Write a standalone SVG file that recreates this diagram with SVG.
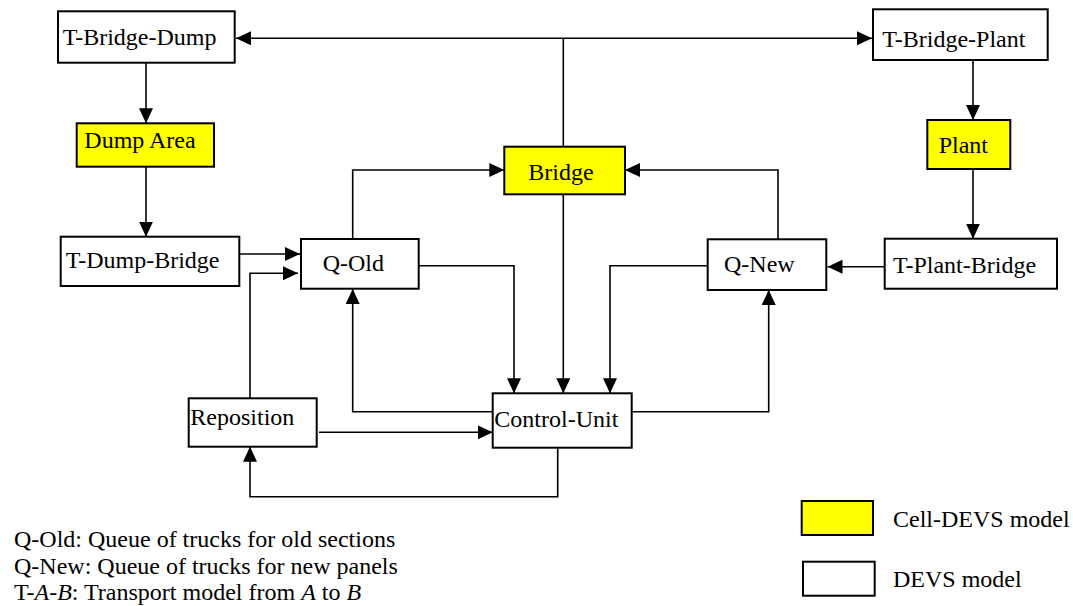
<svg xmlns="http://www.w3.org/2000/svg" width="1073" height="606" viewBox="0 0 1073 606" font-family="'Liberation Serif', 'Times New Roman', Times, serif">
<style>
.box{fill:#ffffff;stroke:#000;stroke-width:2}
.cell{fill:#ffff00;stroke:#000;stroke-width:2}
.t{font-family:'Liberation Serif', 'Times New Roman', Times, serif;font-size:24px;fill:#000}
.c{fill:none;stroke:#000;stroke-width:1.6}
</style>
<defs>
<marker id="ah" markerUnits="userSpaceOnUse" markerWidth="16" markerHeight="15" refX="15" refY="7" orient="auto-start-reverse">
<path d="M0,0 L15,7 L0,14 z" fill="#000"/>
</marker>
</defs>
<g id="connectors">
<path class="c" d="M236,38.3 H872" stroke-width="1.3" marker-start="url(#ah)" marker-end="url(#ah)"/>
<path class="c" d="M563.3,38.3 V146.7" stroke-width="1.3"/>
<path class="c" d="M146,62.7 V123.3" marker-end="url(#ah)"/>
<path class="c" d="M146,166.7 V236.7" marker-end="url(#ah)"/>
<path class="c" d="M973,60 V120" marker-end="url(#ah)"/>
<path class="c" d="M973,169 V238.7" marker-end="url(#ah)"/>
<path class="c" d="M239.3,254 H300" marker-end="url(#ah)"/>
<path class="c" d="M884.7,266.7 H827.5" marker-end="url(#ah)"/>
<path class="c" d="M352.7,239 V170 H504.3" marker-end="url(#ah)"/>
<path class="c" d="M778,239.3 V170 H625" marker-end="url(#ah)"/>
<path class="c" d="M563.3,194.3 V393.3" marker-end="url(#ah)"/>
<path class="c" d="M418.7,265.7 H514 V393.3" marker-end="url(#ah)"/>
<path class="c" d="M707.7,265.7 H610 V393.3" marker-end="url(#ah)"/>
<path class="c" d="M250,398.3 V273.3 H298" marker-end="url(#ah)"/>
<path class="c" d="M492.7,411.7 H352.7 V289" marker-end="url(#ah)"/>
<path class="c" d="M631.7,411.7 H768.7 V290" marker-end="url(#ah)"/>
<path class="c" d="M319,432.3 H492.7" marker-end="url(#ah)"/>
<path class="c" d="M557.7,447.7 V496.7 H250 V446.7" marker-end="url(#ah)"/>
</g>
<g id="t-bridge-dump"><rect class="box" x="58" y="11.3" width="176.7" height="51.4"/><text class="t" x="62.7" y="45">T-Bridge-Dump</text></g>
<g id="dump-area"><rect class="cell" x="76.7" y="123.3" width="137.3" height="43.4"/><text class="t" x="84.3" y="147.7">Dump Area</text></g>
<g id="t-dump-bridge"><rect class="box" x="60.7" y="236.7" width="178.6" height="49.3"/><text class="t" x="65.7" y="268.3">T-Dump-Bridge</text></g>
<g id="bridge"><rect class="cell" x="504.3" y="146.7" width="120.7" height="47.6"/><text class="t" x="528.3" y="180">Bridge</text></g>
<g id="t-bridge-plant"><rect class="box" x="873" y="9.3" width="174.7" height="50.7"/><text class="t" x="882.3" y="46.7">T-Bridge-Plant</text></g>
<g id="plant"><rect class="cell" x="927.3" y="120" width="83" height="49"/><text class="t" x="938.7" y="153.3">Plant</text></g>
<g id="t-plant-bridge"><rect class="box" x="884.7" y="238.7" width="172.3" height="50"/><text class="t" x="893" y="272.7">T-Plant-Bridge</text></g>
<g id="q-old"><rect class="box" x="301" y="239" width="117.7" height="49.7"/><text class="t" x="322.7" y="270.5">Q-Old</text></g>
<g id="q-new"><rect class="box" x="707.7" y="239.3" width="118.6" height="50.7"/><text class="t" x="724" y="271.7">Q-New</text></g>
<g id="control-unit"><rect class="box" x="492.7" y="393.3" width="139" height="54.4"/><text class="t" x="494.3" y="426.7">Control-Unit</text></g>
<g id="reposition"><rect class="box" x="188.7" y="398.3" width="128" height="48.4"/><text class="t" x="190.3" y="425">Reposition</text></g>
<g id="notes">
<text class="t" x="14" y="546.7">Q-Old: Queue of trucks for old sections</text>
<text class="t" x="14" y="574">Q-New: Queue of trucks for new panels</text>
<text class="t" x="14" y="600">T-<tspan font-style="italic">A</tspan>-<tspan font-style="italic">B</tspan>: Transport model from <tspan font-style="italic">A</tspan> to <tspan font-style="italic">B</tspan></text>
</g>
<g id="legend">
<rect class="cell" x="801.7" y="501" width="71.3" height="34"/>
<text class="t" x="893" y="526.7">Cell-DEVS model</text>
<rect class="box" x="803" y="561.7" width="71.7" height="34"/>
<text class="t" x="893" y="586.7">DEVS model</text>
</g>
</svg>
